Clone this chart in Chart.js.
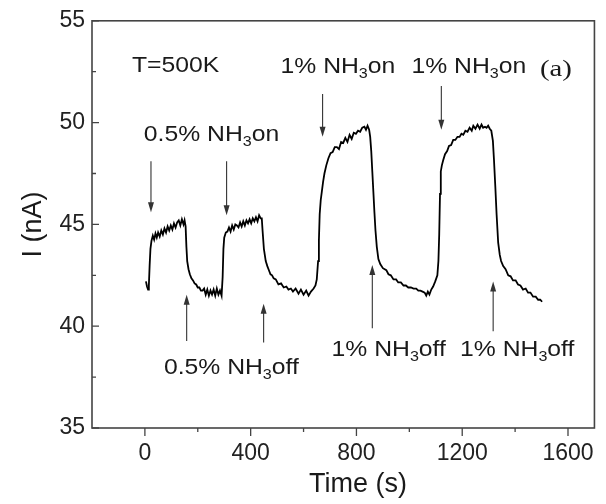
<!DOCTYPE html>
<html lang="en">
<head>
<meta charset="UTF-8">
<title>NH3 response at 500K</title>
<script src="https://cdn.jsdelivr.net/npm/chart.js"></script>
<style>
  body { margin: 0; background: #fff; }
  .wrap { width: 606px; height: 504px; }
</style>
</head>
<body>
<div class="wrap"><canvas id="chart"></canvas></div>
<script>
// current trace
const timeS = [
  4, 8, 12, 15, 18, 21, 25, 30, 35, 40, 45, 50, 56, 62, 68, 74, 80, 86, 92, 98,
  104, 110, 116, 122, 128, 134, 140, 146, 150, 154, 157, 160, 165, 170, 176, 182, 188, 194, 200, 206,
  212, 218, 224, 230, 236, 242, 248, 254, 260, 266, 272, 278, 284, 290, 294, 297, 300, 306, 312, 318,
  324, 330, 336, 342, 348, 354, 360, 366, 372, 378, 384, 390, 396, 402, 408, 414, 420, 426, 432, 438,
  442, 445, 450, 457, 463, 469, 475, 481, 487, 495, 505, 515, 525, 535, 543, 552, 560, 570, 581, 590,
  600, 610, 619, 628, 638, 645, 650, 655, 658, 661, 665, 669, 674, 679, 686, 694, 702, 710, 718, 726,
  734, 742, 750, 758, 766, 774, 782, 790, 798, 806, 814, 822, 830, 836, 842, 848, 852, 856, 860, 864,
  868, 872, 877, 883, 890, 900, 913, 921, 930, 940, 950, 958, 968, 978, 987, 996, 1006, 1016, 1026, 1034,
  1042, 1050, 1058, 1064, 1070, 1076, 1083, 1090, 1098, 1106, 1110, 1113, 1116, 1119, 1123, 1128, 1135, 1143, 1150, 1158,
  1166, 1174, 1182, 1190, 1197, 1204, 1212, 1220, 1228, 1236, 1242, 1250, 1258, 1266, 1273, 1279, 1286, 1292, 1298, 1304,
  1310, 1316, 1320, 1325, 1330, 1336, 1342, 1347, 1355, 1364, 1374, 1383, 1392, 1402, 1411, 1420, 1430, 1440, 1449, 1458,
  1468, 1478, 1487, 1495, 1502
];
const currentNA = [
  42.2, 41.95, 41.8, 42.0, 43.0, 43.8, 44.2, 44.45, 44.25, 44.55, 44.35, 44.6, 44.4, 44.7, 44.5, 44.8, 44.6, 44.9, 44.7, 44.95,
  44.75, 45.05, 44.85, 45.1, 45.2, 44.95, 45.25, 45.0, 45.2, 44.9, 43.9, 43.2, 42.8, 42.55, 42.35, 42.25, 42.1, 42.05, 41.9, 41.9,
  41.75, 41.75, 41.85, 41.55, 41.8, 41.5, 41.75, 41.55, 41.8, 41.5, 41.85, 41.55, 41.75, 41.5, 42.4, 43.8, 44.35, 44.6, 44.65, 44.85,
  44.65, 44.95, 44.75, 45.0, 44.95, 44.85, 45.1, 44.9, 45.15, 44.95, 45.2, 45.05, 45.25, 45.05, 45.3, 45.15, 45.35, 45.15, 45.45, 45.3,
  45.3, 44.7, 43.8, 43.2, 42.95, 42.75, 42.55, 42.5, 42.35, 42.3, 42.05, 42.1, 41.9, 41.95, 41.8, 41.85, 41.7, 41.85, 41.6, 41.8,
  41.55, 41.75, 41.5, 41.7, 41.85, 42.0, 42.3, 43.2, 44.2, 45.5, 46.2, 46.6, 47.1, 47.5, 47.9, 48.25, 48.5, 48.55, 48.8, 48.8,
  48.7, 49.05, 49.0, 49.25, 49.05, 49.4, 49.2, 49.5, 49.45, 49.6, 49.55, 49.75, 49.8, 49.65, 49.85, 49.65, 49.3, 48.6, 47.6, 46.6,
  45.6, 44.7, 43.9, 43.3, 43.05, 42.85, 42.75, 42.55, 42.5, 42.3, 42.3, 42.15, 42.15, 42.0, 42.0, 41.9, 41.9, 41.85, 41.85, 41.75,
  41.75, 41.7, 41.65, 41.5, 41.7, 41.55, 41.8, 41.95, 42.2, 42.5, 43.2, 44.5, 46.5, 47.6, 47.9, 48.15, 48.45, 48.6, 48.85, 48.9,
  49.15, 49.15, 49.3, 49.3, 49.45, 49.4, 49.6, 49.55, 49.75, 49.6, 49.85, 49.7, 49.9, 49.7, 49.9, 49.75, 49.8, 49.75, 49.85, 49.7,
  49.6, 49.1, 48.2, 46.9, 45.5, 44.1, 43.5, 43.2, 42.95, 42.8, 42.5, 42.45, 42.25, 42.25, 42.05, 42.0, 41.8, 41.85, 41.65, 41.65,
  41.45, 41.45, 41.3, 41.3, 41.2
];
const xTicks = [0, 400, 800, 1200, 1600];
const xMinor = [200, 600, 1000, 1400];
const yTicks = [35, 40, 45, 50, 55];
const yMinor = [37.5, 42.5, 47.5, 52.5];

// gas switching arrows: [time, tail current, tip current]
const arrows = [
  [23, 48.1, 45.6], [309, 48.1, 45.45], [672, 51.4, 49.3], [1121, 51.8, 49.65],
  [158, 39.27, 41.55], [449, 39.2, 41.1], [860, 39.9, 43.0], [1317, 39.75, 42.2]
];
// text notes: left time, baseline current, pieces (sub = subscript)
const notes = [
  { t: -49, i: 52.49, parts: [['T=500K']] },
  { t: -4, i: 49.11, parts: [['0.5% NH'], ['3', 'sub'], ['on']] },
  { t: 513, i: 52.42, parts: [['1% NH'], ['3', 'sub'], ['on']] },
  { t: 1008, i: 52.42, parts: [['1% NH'], ['3', 'sub'], ['on']] },
  { t: 72, i: 37.63, parts: [['0.5% NH'], ['3', 'sub'], ['off']] },
  { t: 706, i: 38.55, parts: [['1% NH'], ['3', 'sub'], ['off']] },
  { t: 1192, i: 38.55, parts: [['1% NH'], ['3', 'sub'], ['off']] }
];

const points = timeS.map((t, k) => ({ x: t, y: currentNA[k] }));

function drawNote(ctx, x, y, parts) {
  ctx.save();
  ctx.translate(x, y);
  ctx.scale(1.15, 1);
  let cx = 0;
  parts.forEach(p => {
    const sub = p[1] === 'sub';
    ctx.font = sub ? '14px "Liberation Sans", Arial, sans-serif' : '21.5px "Liberation Sans", Arial, sans-serif';
    ctx.fillText(p[0], cx, sub ? 5 : 0);
    cx += ctx.measureText(p[0]).width;
  });
  ctx.restore();
}

const decor = {
  id: 'decor',
  afterDraw(chart) {
    const ctx = chart.ctx;
    const a = chart.chartArea;
    const xs = chart.scales.x, ys = chart.scales.y;
    ctx.save();
    ctx.strokeStyle = '#444';
    ctx.lineWidth = 1.6;
    ctx.strokeRect(a.left, a.top, a.right - a.left, a.bottom - a.top);

    ctx.lineWidth = 1.3;
    ctx.beginPath();
    yTicks.forEach(v => { const y = ys.getPixelForValue(v); ctx.moveTo(a.left, y); ctx.lineTo(a.left + 7, y); });
    yMinor.forEach(v => { const y = ys.getPixelForValue(v); ctx.moveTo(a.left, y); ctx.lineTo(a.left + 4, y); });
    xTicks.forEach(v => { const x = xs.getPixelForValue(v); ctx.moveTo(x, a.bottom); ctx.lineTo(x, a.bottom + 8); });
    xMinor.forEach(v => { const x = xs.getPixelForValue(v); ctx.moveTo(x, a.bottom); ctx.lineTo(x, a.bottom + 4); });
    ctx.stroke();

    // arrows
    ctx.strokeStyle = '#333';
    ctx.fillStyle = '#333';
    ctx.lineWidth = 1.1;
    arrows.forEach(([t, from, to]) => {
      const x = xs.getPixelForValue(t);
      const y0 = ys.getPixelForValue(from), y1 = ys.getPixelForValue(to);
      const dir = y1 > y0 ? 1 : -1;
      ctx.beginPath();
      ctx.moveTo(x, y0);
      ctx.lineTo(x, y1 - dir * 6);
      ctx.stroke();
      ctx.beginPath();
      ctx.moveTo(x, y1);
      ctx.lineTo(x - 3, y1 - dir * 10);
      ctx.lineTo(x + 3, y1 - dir * 10);
      ctx.closePath();
      ctx.fill();
    });

    // notes
    ctx.fillStyle = '#1a1a1a';
    ctx.textBaseline = 'alphabetic';
    ctx.textAlign = 'left';
    notes.forEach(n => drawNote(ctx, xs.getPixelForValue(n.t), ys.getPixelForValue(n.i), n.parts));

    ctx.save();
    ctx.translate(xs.getPixelForValue(1494), ys.getPixelForValue(52.3));
    ctx.scale(1.2, 1);
    ctx.font = '24px "Liberation Serif", "Times New Roman", serif';
    ctx.fillText('(a)', 0, 0);
    ctx.restore();

    // axis titles
    ctx.font = '27px "Liberation Sans", Arial, sans-serif';
    ctx.textAlign = 'center';
    ctx.fillText('Time (s)', 358, 492);
    ctx.save();
    ctx.translate(41, a.top + (a.bottom - a.top) / 2);
    ctx.rotate(-Math.PI / 2);
    ctx.fillText('I (nA)', 0, 0);
    ctx.restore();
    ctx.restore();
  }
};

const tickFont = { family: '"Liberation Sans", Arial, sans-serif', size: 23 };

new Chart(document.getElementById('chart'), {
  type: 'line',
  data: {
    datasets: [{
      data: points,
      borderColor: '#000',
      borderWidth: 1.8,
      pointRadius: 0,
      tension: 0,
      fill: false
    }]
  },
  options: {
    responsive: true,
    maintainAspectRatio: false,
    animation: false,
    layout: { padding: { top: 17, right: 8, left: 0, bottom: 0 } },
    plugins: { legend: { display: false }, tooltip: { enabled: false } },
    scales: {
      x: {
        type: 'linear',
        min: -200,
        max: 1700,
        afterBuildTicks: s => { s.ticks = xTicks.map(v => ({ value: v })); },
        afterFit: s => { s.height = 76; },
        grid: { display: false, drawTicks: false },
        border: { display: false },
        ticks: { padding: 12, color: '#222', font: tickFont, callback: v => String(v) }
      },
      y: {
        min: 35,
        max: 55,
        afterBuildTicks: s => { s.ticks = yTicks.map(v => ({ value: v })); },
        afterFit: s => { s.width = 92; },
        grid: { display: false, drawTicks: false },
        border: { display: false },
        ticks: { padding: 7, color: '#222', font: tickFont, callback: v => String(v) }
      }
    }
  },
  plugins: [decor]
});
</script>
</body>
</html>
